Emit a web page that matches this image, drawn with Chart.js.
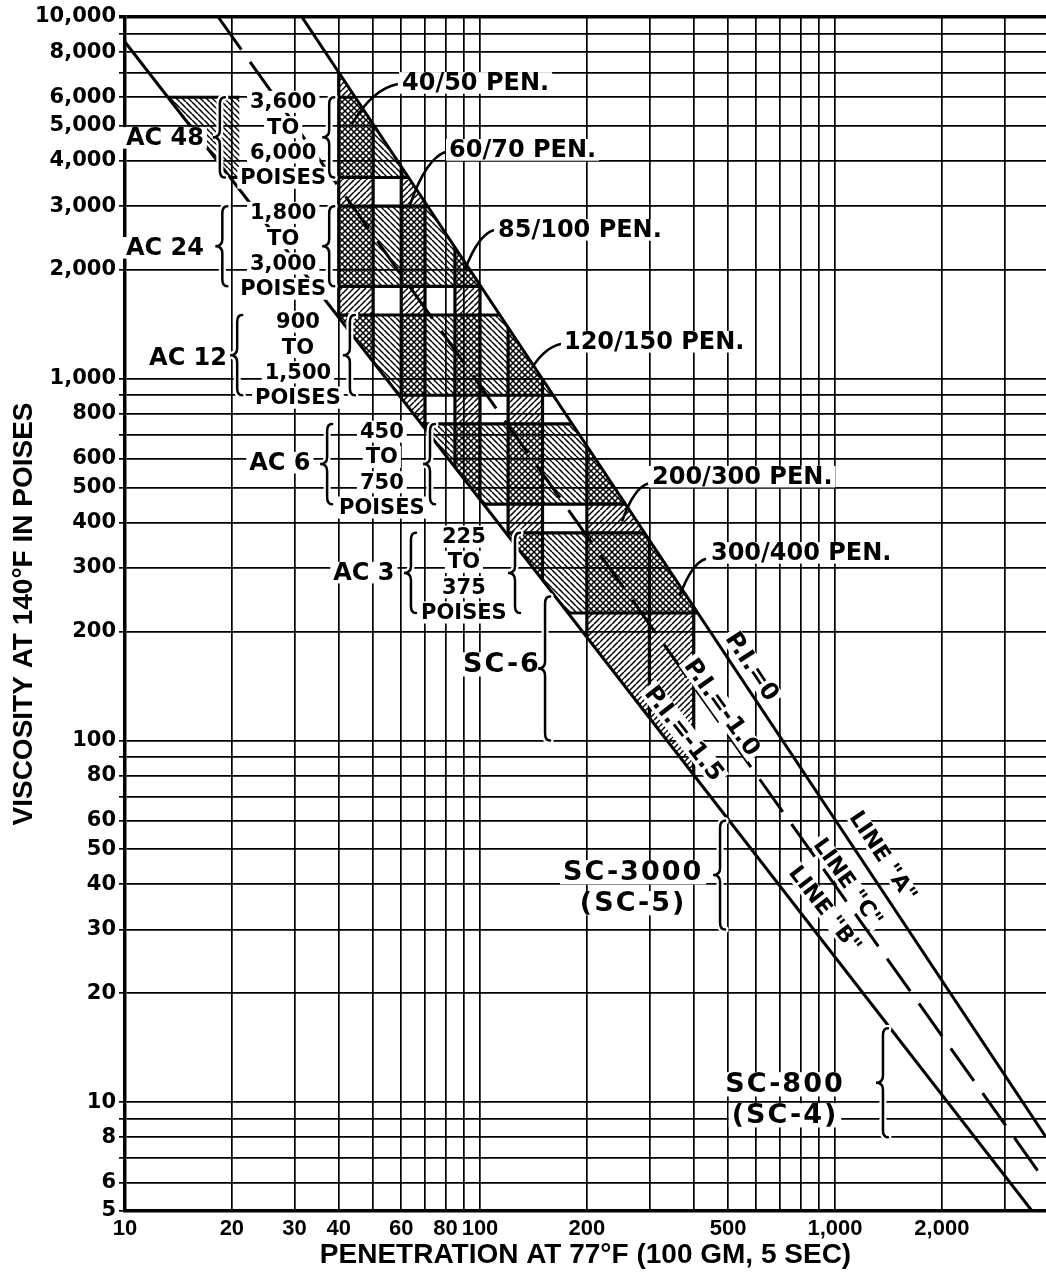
<!DOCTYPE html>
<html lang="en">
<head>
<meta charset="utf-8">
<title>Penetration vs viscosity</title>
<script src="https://cdn.jsdelivr.net/npm/chart.js@4.4.1/dist/chart.umd.min.js"></script>
<style>
    html, body { margin: 0; padding: 0; background: #fff; }
    #contenedor { width: 1046px; height: 1274px; }
</style>
</head>
<body>
<div id="contenedor"><canvas id="graficoViscosidad" width="1046" height="1274"></canvas></div>
<script>
// marcas y etiquetas de los ejes
let marcasX = [10, 20, 30, 40, 50, 60, 70, 80, 90, 100, 200, 300, 400, 500, 600, 700, 800, 900, 1000, 2000, 3000];
let etiquetasX = [10, 20, 30, 40, 60, 80, 100, 200, 500, 1000, 2000];
let marcasY = [5, 6, 7, 8, 9, 10, 20, 30, 40, 50, 60, 70, 80, 90, 100, 200, 300, 400, 500, 600, 700, 800, 900,
    1000, 2000, 3000, 4000, 5000, 6000, 7000, 8000, 9000, 10000];
let etiquetasY = [5, 6, 8, 10, 20, 30, 40, 50, 60, 80, 100, 200, 300, 400, 500, 600, 800, 1000, 2000, 3000, 4000, 5000, 6000, 8000, 10000];

// lineas (penetracion, viscosidad)
let lineaA = [{ x: 31.5, y: 10000 }, { x: 3930, y: 8 }];
let lineaC = [{ x: 18.3, y: 10000 }, { x: 3930, y: 6 }];
let lineaB = [{ x: 10, y: 8530 }, { x: 3590, y: 5 }];

// grados por penetracion
let gradosPen = ["40/50", "60/70", "85/100", "120/150", "200/300", "300/400"];
let rangosPen = [[40, 50], [60, 70], [85, 100], [120, 150], [200, 300], [300, 400]];

// grados por viscosidad
let gradosAC = ["AC 48", "AC 24", "AC 12", "AC 6", "AC 3"];
let rangosAC = [[3600, 6000], [1800, 3000], [900, 1500], [450, 750], [225, 375]];
let tramosAC = [[[10, 21], [40, 5000]], [[40, 5000]], [[10, 5000]], [[10, 5000]], [[10, 5000]]];

// grados SC
let gradosSC = [["SC-6"], ["SC-3000", "(SC-5)"], ["SC-800", "(SC-4)"]];
let rangosSC = [[100, 250], [30, 60], [8, 16]];

// posiciones de los textos (penetracion, viscosidad)
let posBloquesAC = [[27.9, 5826], [27.9, 2874], [30.7, 1437], [52.9, 714], [90.1, 366]];
let posEtiquetasAC = [[12.96, 4632], [12.96, 2301], [15.05, 1143], [27.3, 586], [47.1, 291]];
let llaveIzqAC = [18.5, 18.8, 20.7, 37.1, 63.9];
let llaveDerAC = [37.6, 37.6, 43.0, 72.3, 125.5];
let posPen = [[60.3, 6572], [81.8, 4291], [112.4, 2579], [172.4, 1265], [305.2, 536], [447.3, 330]];
let guiasPen = [[58.7, 6530, 43.6, 5062], [80.2, 4238, 63.5, 3025], [109.5, 2579, 90.7, 2001],
    [170.2, 1249, 140.1, 1072], [297.4, 513, 251.2, 403], [433.1, 318, 365.9, 252]];
let etiquetasPI = [["P.I.=0", 583.9, 160.1, "A"], ["P.I.=-1.0", 480.5, 123.4, "C"], ["P.I.=-1.5", 375.5, 104.5, "B"]];
let etiquetasLinea = [['LINE "A"', 1365.5, 47.8, "A"], ['LINE "C"', 1087.8, 40.5, "C"], ['LINE "B"', 937.2, 34.1, "B"]];
let posSC = [[115.3, 162.2], [270, 43.2], [723, 11.2]];
let llaveSC = [152.5, 474.5, 1365];

let lineas = { A: lineaA, B: lineaB, C: lineaC };
let lienzo = document.getElementById("graficoViscosidad");
let ctxBase = lienzo.getContext("2d");

function crearTrama(subiendo) {
    let t = 6;
    let c = document.createElement("canvas");
    c.width = t; c.height = t;
    let g = c.getContext("2d");
    g.strokeStyle = "#000";
    g.lineWidth = 1.5;
    g.beginPath();
    for (let k = -1; k <= 1; k++) {
        if (subiendo) {
            g.moveTo(k * t, t); g.lineTo(k * t + t, 0);
        } else {
            g.moveTo(k * t, 0); g.lineTo(k * t + t, t);
        }
    }
    g.stroke();
    return ctxBase.createPattern(c, "repeat");
}
let tramaPen = crearTrama(true);
let tramaAC = crearTrama(false);

function caja(ctx, texto, cx, cy, fuente, alinear, angulo, alto) {
    ctx.save();
    ctx.translate(cx, cy);
    if (angulo) ctx.rotate(angulo);
    ctx.font = fuente;
    let w = ctx.measureText(texto).width;
    let h = parseFloat(fuente.match(/([\d.]+)px/)[1]) * (alto || 0.9);
    let x0 = alinear === "left" ? 0 : -w / 2;
    ctx.fillStyle = "#fff";
    ctx.fillRect(x0 - 3, -h / 2, w + 6, h);
    ctx.fillStyle = "#000";
    ctx.textAlign = alinear || "center";
    ctx.textBaseline = "middle";
    ctx.fillText(texto, 0, 1);
    ctx.restore();
}

function llave(ctx, x, y1, y2) {
    let w = 7, r = 7, ym = (y1 + y2) / 2;
    let trazo = function () {
        ctx.beginPath();
        ctx.moveTo(x + 5, y1);
        ctx.quadraticCurveTo(x, y1, x, y1 + r);
        ctx.lineTo(x, ym - r);
        ctx.quadraticCurveTo(x, ym, x - w, ym);
        ctx.quadraticCurveTo(x, ym, x, ym + r);
        ctx.lineTo(x, y2 - r);
        ctx.quadraticCurveTo(x, y2, x + 5, y2);
        ctx.stroke();
    };
    ctx.save();
    ctx.lineCap = "round";
    ctx.strokeStyle = "#fff"; ctx.lineWidth = 7; trazo();
    ctx.strokeStyle = "#000"; ctx.lineWidth = 2.5; trazo();
    ctx.restore();
}

function anguloLinea(l, x, y) {
    let dx = x.getPixelForValue(l[1].x) - x.getPixelForValue(l[0].x);
    let dy = y.getPixelForValue(l[1].y) - y.getPixelForValue(l[0].y);
    return Math.atan2(dy, dx);
}

const pluginBandas = {
    id: "bandas",
    beforeDatasetsDraw(chart) {
        const { ctx, chartArea: area, scales: { x, y } } = chart;
        const px = v => x.getPixelForValue(v);
        const py = v => y.getPixelForValue(v);
        ctx.save();
        ctx.beginPath();
        ctx.moveTo(px(lineaA[0].x), py(lineaA[0].y));
        ctx.lineTo(px(lineaA[1].x), py(lineaA[1].y));
        ctx.lineTo(area.right, area.bottom);
        ctx.lineTo(px(lineaB[1].x), py(lineaB[1].y));
        ctx.lineTo(px(lineaB[0].x), py(lineaB[0].y));
        ctx.lineTo(area.left, area.top);
        ctx.closePath();
        ctx.clip();

        rangosAC.forEach(function (r, i) {
            tramosAC[i].forEach(function (t) {
                ctx.fillStyle = tramaAC;
                ctx.fillRect(px(t[0]), py(r[1]), px(t[1]) - px(t[0]), py(r[0]) - py(r[1]));
            });
        });
        rangosPen.forEach(function (r) {
            ctx.fillStyle = tramaPen;
            ctx.fillRect(px(r[0]), area.top, px(r[1]) - px(r[0]), area.height);
        });

        ctx.strokeStyle = "#000";
        ctx.lineWidth = 3.2;
        ctx.beginPath();
        rangosAC.forEach(function (r, i) {
            tramosAC[i].forEach(function (t) {
                r.forEach(function (v) {
                    ctx.moveTo(px(t[0]), py(v));
                    ctx.lineTo(px(t[1]), py(v));
                });
            });
        });
        rangosPen.forEach(function (r) {
            r.forEach(function (v) {
                ctx.moveTo(px(v), area.top);
                ctx.lineTo(px(v), area.bottom);
            });
        });
        ctx.stroke();
        ctx.restore();
    }
};

const pluginEtiquetas = {
    id: "etiquetas",
    afterDatasetsDraw(chart) {
        const { ctx, scales: { x, y } } = chart;
        const px = v => x.getPixelForValue(v);
        const py = v => y.getPixelForValue(v);
        const negrita = "bold 21px 'DejaVu Sans'";
        const salto = 25.3;

        // bloques de rangos AC
        rangosAC.forEach(function (r, i) {
            let textos = [r[0].toLocaleString("en-US"), "TO", r[1].toLocaleString("en-US"), "POISES"];
            let cx = px(posBloquesAC[i][0]), cy = py(posBloquesAC[i][1]);
            textos.forEach(function (t, k) {
                caja(ctx, t, cx, cy + k * salto, negrita, "center", 0, 1.05);
            });
            caja(ctx, gradosAC[i], px(posEtiquetasAC[i][0]), py(posEtiquetasAC[i][1]), "bold 24px 'DejaVu Sans'", "center");
            llave(ctx, px(llaveIzqAC[i]), py(r[1]), py(r[0]));
            llave(ctx, px(llaveDerAC[i]), py(r[1]), py(r[0]));
        });

        // grados de penetracion y guias
        ctx.save();
        ctx.strokeStyle = "#000";
        ctx.lineWidth = 2.6;
        guiasPen.forEach(function (g) {
            let sx = px(g[0]), sy = py(g[1]), ex = px(g[2]), ey = py(g[3]);
            ctx.beginPath();
            ctx.moveTo(sx, sy);
            ctx.quadraticCurveTo(ex + (sx - ex) * 0.45, sy + (ey - sy) * 0.12, ex, ey);
            ctx.stroke();
        });
        ctx.restore();
        gradosPen.forEach(function (g, i) {
            caja(ctx, g + " PEN.", px(posPen[i][0]), py(posPen[i][1]), "bold 24px 'DejaVu Sans'", "left");
        });

        // P.I. y nombres de lineas
        etiquetasPI.forEach(function (e) {
            caja(ctx, e[0], px(e[1]), py(e[2]), "bold 24px 'DejaVu Sans'", "center", anguloLinea(lineas[e[3]], x, y));
        });
        etiquetasLinea.forEach(function (e) {
            caja(ctx, e[0], px(e[1]), py(e[2]), "bold 22px 'DejaVu Sans'", "center", anguloLinea(lineas[e[3]], x, y));
        });

        // grados SC
        ctx.save();
        ctx.letterSpacing = "2px";
        gradosSC.forEach(function (textos, i) {
            let cx = px(posSC[i][0]), cy = py(posSC[i][1]);
            textos.forEach(function (t, k) {
                caja(ctx, t, cx, cy + k * 31, "bold 27px 'DejaVu Sans'", "center");
            });
            llave(ctx, px(llaveSC[i]), py(rangosSC[i][1]), py(rangosSC[i][0]));
        });
        ctx.restore();
    }
};

let grafico = new Chart(lienzo, {
    type: "scatter",
    data: {
        datasets: [
            { label: 'LINE "A"', data: lineaA, showLine: true, borderColor: "#000", borderWidth: 3, pointRadius: 0 },
            { label: 'LINE "C"', data: lineaC, showLine: true, borderColor: "#000", borderWidth: 3, borderDash: [40, 15], pointRadius: 0 },
            { label: 'LINE "B"', data: lineaB, showLine: true, borderColor: "#000", borderWidth: 3, pointRadius: 0 }
        ]
    },
    options: {
        responsive: false,
        animation: false,
        devicePixelRatio: 1,
        layout: { padding: { top: 17, right: 0, bottom: 0, left: 0 } },
        plugins: {
            legend: { display: false },
            tooltip: { enabled: false }
        },
        scales: {
            x: {
                type: "logarithmic",
                min: 10,
                max: 3930,
                afterBuildTicks: function (s) { s.ticks = marcasX.map(v => ({ value: v })); },
                afterFit: function (s) { s.height = 63; },
                grid: { color: "#000", lineWidth: 1.7, drawTicks: false },
                border: { color: "#000", width: 3.5 },
                ticks: {
                    autoSkip: false,
                    maxRotation: 0,
                    padding: 5,
                    color: "#000",
                    font: { family: "'Liberation Sans'", weight: "bold", size: 22 },
                    callback: v => etiquetasX.includes(v) ? v.toLocaleString("en-US") : ""
                },
                title: {
                    display: true,
                    text: "PENETRATION AT 77°F (100 GM, 5 SEC)",
                    color: "#000",
                    font: { family: "'Liberation Sans'", weight: "bold", size: 28 },
                    padding: { top: 0, bottom: 2 }
                }
            },
            y: {
                type: "logarithmic",
                min: 5,
                max: 10000,
                afterBuildTicks: function (s) { s.ticks = marcasY.map(v => ({ value: v })); },
                afterFit: function (s) { s.width = 125; },
                grid: {
                    color: "#000",
                    lineWidth: c => (c.tick && c.tick.value === 10000) ? 3.5 : 1.7,
                    tickLength: 6
                },
                border: { color: "#000", width: 3.5 },
                ticks: {
                    autoSkip: false,
                    padding: 3,
                    color: "#000",
                    font: { family: "'DejaVu Sans'", weight: "bold", size: 21 },
                    callback: v => etiquetasY.includes(v) ? v.toLocaleString("en-US") : ""
                },
                title: {
                    display: true,
                    text: "VISCOSITY AT 140°F IN POISES",
                    color: "#000",
                    font: { family: "'Liberation Sans'", weight: "bold", size: 28 },
                    padding: { top: 7, bottom: 0 }
                }
            }
        }
    },
    plugins: [pluginBandas, pluginEtiquetas]
});
</script>
</body>
</html>
